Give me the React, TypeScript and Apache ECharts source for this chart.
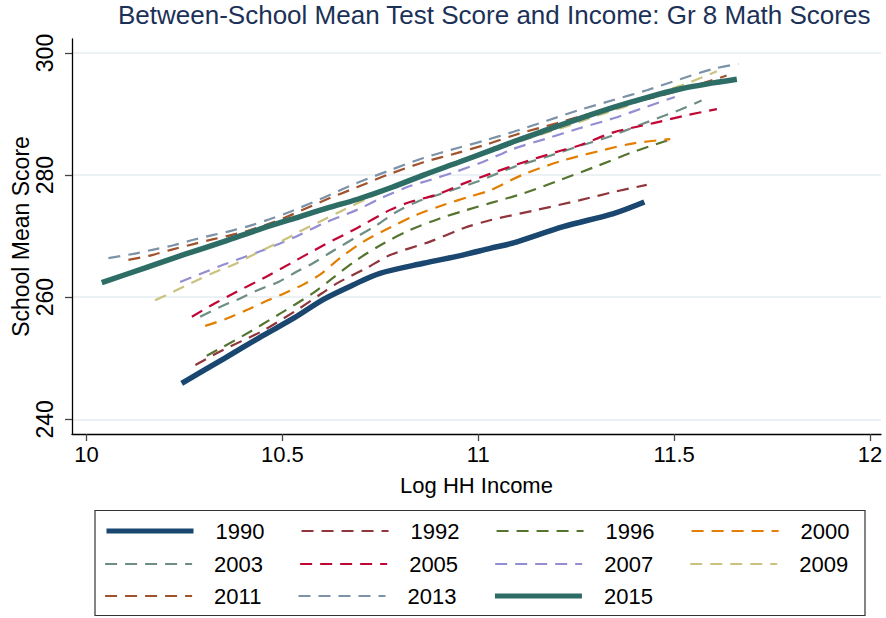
import React, { useEffect, useRef } from "react";
import * as echarts from "echarts";

const seriesNames = ["1990", "1992", "1996", "2000", "2003", "2005", "2007", "2009", "2011", "2013", "2015"];
const xTicks = [10, 10.5, 11, 11.5, 12];
const yTicks = [240, 260, 280, 300];

const s1990: [number, number][] = [
  [10.243, 245.9], [10.35, 249.9], [10.45, 253.7], [10.53, 256.6], [10.605, 259.65], [10.68, 262.0],
  [10.749, 263.9], [10.86, 265.55], [10.96, 266.9], [11.03, 268.0], [11.09, 268.9], [11.217, 271.55],
  [11.345, 273.7], [11.424, 275.6],
];
const s1992: [number, number][] = [
  [10.278, 248.9], [10.35, 251.4], [10.45, 254.5], [10.537, 257.9], [10.6, 260.6], [10.64, 262.3],
  [10.71, 264.6], [10.775, 266.9], [10.877, 269.1], [10.962, 271.3], [11.03, 272.6], [11.15, 274.3],
  [11.26, 275.9], [11.35, 277.3], [11.43, 278.4],
];
const s1996: [number, number][] = [
  [10.307, 250.4], [10.4, 253.7], [10.494, 257.3], [10.579, 260.7], [10.63, 263.2], [10.69, 266.1],
  [10.758, 268.8], [10.826, 271.0], [10.902, 272.9], [10.971, 274.3], [11.03, 275.4], [11.115, 277.0],
  [11.209, 279.2], [11.3, 281.4], [11.396, 283.8], [11.494, 285.9],
];
const s2000: [number, number][] = [
  [10.303, 255.3], [10.358, 256.5], [10.409, 257.9], [10.46, 259.4], [10.507, 260.7], [10.554, 262.1],
  [10.596, 263.7], [10.647, 266.4], [10.707, 269.1], [10.775, 271.4], [10.843, 273.5], [10.911, 275.1],
  [10.979, 276.5], [11.03, 277.5], [11.115, 280.1], [11.217, 282.4], [11.319, 284.1], [11.396, 285.2],
  [11.49, 285.9],
];
const s2003: [number, number][] = [
  [10.29, 256.8], [10.341, 258.4], [10.392, 259.8], [10.443, 261.3], [10.49, 262.5], [10.537, 264.2],
  [10.579, 265.6], [10.63, 267.6], [10.69, 269.9], [10.741, 271.8], [10.792, 274.0], [10.843, 275.6],
  [10.894, 276.7], [10.945, 277.8], [11.0, 279.0], [11.09, 281.3], [11.175, 283.0], [11.26, 284.8],
  [11.33, 286.2], [11.42, 288.4], [11.515, 290.7], [11.57, 292.2],
];
const s2005: [number, number][] = [
  [10.269, 256.8], [10.328, 259.0], [10.375, 260.6], [10.46, 263.4], [10.52, 265.5], [10.605, 268.5],
  [10.69, 271.3], [10.775, 274.3], [10.826, 275.6], [10.894, 276.8], [10.962, 278.6], [11.03, 280.2],
  [11.106, 281.9], [11.2, 283.8], [11.26, 284.9], [11.345, 287.0], [11.447, 288.5], [11.532, 289.8],
  [11.609, 290.8],
];
const s2007: [number, number][] = [
  [10.239, 262.5], [10.298, 264.0], [10.349, 265.3], [10.4, 266.5], [10.447, 267.6], [10.494, 268.8],
  [10.537, 270.0], [10.605, 272.1], [10.69, 274.3], [10.758, 276.4], [10.817, 278.0], [10.877, 279.2],
  [10.945, 280.6], [11.013, 282.2], [11.09, 284.3], [11.175, 286.0], [11.26, 287.7], [11.345, 289.3],
  [11.43, 291.2], [11.502, 292.8],
];
const s2009: [number, number][] = [
  [10.175, 259.5], [10.222, 260.9], [10.273, 262.5], [10.324, 264.0], [10.375, 265.3], [10.418, 266.7],
  [10.469, 268.3], [10.511, 269.6], [10.545, 270.8], [10.596, 272.4], [10.647, 274.0], [10.715, 276.1],
  [10.766, 277.5], [10.85, 279.6], [10.95, 282.0], [11.05, 284.3], [11.132, 286.1], [11.217, 287.8],
  [11.302, 289.7], [11.387, 291.5], [11.472, 293.7], [11.532, 295.0], [11.609, 297.0],
];
const s2011: [number, number][] = [
  [10.107, 266.1], [10.167, 266.9], [10.218, 267.8], [10.273, 268.7], [10.324, 269.5], [10.371, 270.2],
  [10.418, 271.0], [10.469, 272.1], [10.52, 273.4], [10.605, 275.8], [10.69, 278.0], [10.775, 280.2],
  [10.86, 282.1], [10.945, 283.6], [11.02, 285.0], [11.1, 286.7], [11.2, 288.5], [11.3, 290.3],
  [11.4, 292.0], [11.5, 293.6], [11.634, 296.3],
];
const s2013: [number, number][] = [
  [10.056, 266.4], [10.12, 267.1], [10.171, 267.8], [10.222, 268.5], [10.273, 269.4], [10.324, 270.2],
  [10.371, 270.9], [10.422, 271.8], [10.469, 272.8], [10.52, 274.0], [10.605, 276.3], [10.69, 278.7],
  [10.775, 280.8], [10.86, 282.8], [10.945, 284.4], [11.013, 285.6], [11.09, 287.1], [11.175, 288.9],
  [11.26, 290.7], [11.345, 292.3], [11.43, 293.9], [11.515, 295.7], [11.6, 297.4], [11.664, 298.2],
];
const s2015: [number, number][] = [
  [10.039, 262.4], [10.15, 264.8], [10.25, 267.0], [10.35, 269.1], [10.45, 271.3], [10.545, 273.2],
  [10.62, 274.7], [10.69, 276.0], [10.78, 278.0], [10.86, 280.0], [10.95, 282.1], [11.03, 284.0],
  [11.1, 285.7], [11.175, 287.4], [11.26, 289.3], [11.345, 291.1], [11.43, 292.7], [11.515, 294.1],
  [11.6, 295.1], [11.66, 295.7],
];

const seriesData = [s1990, s1992, s1996, s2000, s2003, s2005, s2007, s2009, s2011, s2013, s2015];
const colors = ["#1a476f", "#90353b", "#55752f", "#e37e00", "#6e8e84", "#c10534", "#938dd2", "#cac27e", "#a0522d", "#7b92a8", "#2d6d66"];
const thickNames = ["1990", "2015"];
const legendRows = [
  ["1990", "1992", "1996", "2000"],
  ["2003", "2005", "2007", "2009"],
  ["2011", "2013", "2015"],
];

export default function App() {
  const ref = useRef<HTMLDivElement>(null);
  useEffect(() => {
    if (!ref.current) return;
    const chart = echarts.init(ref.current, null, { renderer: "svg" });
    const font = "'Liberation Sans', Arial, Helvetica, sans-serif";
    const dash = [12, 8];
    const series = seriesNames.map((name, i) => {
      const thick = thickNames.includes(name);
      return {
        type: "line",
        name,
        data: seriesData[i],
        symbol: "none",
        showSymbol: false,
        smooth: 0.3,
        silent: true,
        lineStyle: { color: colors[i], width: thick ? 5.5 : 2.2, type: thick ? "solid" : dash, cap: "butt" },
        itemStyle: { color: colors[i] },
      };
    });
    const legendTops = [520, 553, 585];
    const legends = legendRows.map((names, r) => ({
      data: names.map((n) => ({ name: n, lineStyle: { width: thickNames.includes(n) ? 5 : 2.2 } })),
      left: 104,
      top: legendTops[r],
      orient: "horizontal",
      itemWidth: 87,
      itemHeight: 14,
      itemGap: 36,
      padding: 0,
      selectedMode: false,
      itemStyle: { opacity: 0 },
      textStyle: { fontSize: 22, color: "#000", fontFamily: font, width: 60, padding: [0, 0, 0, 17] },
    }));
    chart.setOption({
      animation: false,
      textStyle: { fontFamily: font },
      title: {
        text: "Between-School Mean Test Score and Income: Gr 8 Math Scores",
        left: 118,
        top: 2,
        padding: 0,
        textStyle: { fontSize: 26, fontWeight: "normal", color: "#1c3157", fontFamily: font },
      },
      grid: { left: 72, right: 5, top: 39, bottom: 184, containLabel: false, outerBoundsMode: "none" },
      xAxis: {
        type: "value",
        min: 9.963,
        max: 12.028,
        name: "Log HH Income",
        nameLocation: "middle",
        nameGap: 40,
        nameMoveOverlap: false,
        nameTextStyle: { fontSize: 22, color: "#000", fontFamily: font },
        axisLine: { show: true, lineStyle: { color: "#000", width: 1.3 } },
        axisTick: { show: true, customValues: xTicks, length: 7, lineStyle: { color: "#444", width: 1.3 } },
        axisLabel: { customValues: xTicks, fontSize: 22, color: "#000", margin: 9, fontFamily: font },
        splitLine: { show: false },
      },
      yAxis: {
        type: "value",
        min: 237.59,
        max: 302.29,
        name: "School Mean Score",
        nameLocation: "middle",
        nameGap: 40,
        nameRotate: 90,
        nameMoveOverlap: false,
        nameTextStyle: { fontSize: 23, color: "#000", fontFamily: font },
        axisLine: { show: true, lineStyle: { color: "#000", width: 1.3 } },
        axisTick: { show: true, customValues: yTicks, length: 7, lineStyle: { color: "#444", width: 1.3 } },
        axisLabel: { customValues: yTicks, rotate: 90, fontSize: 23, color: "#000", margin: 16, fontFamily: font },
        splitLine: { show: true, lineStyle: { color: "#e6eef1", width: 1.6 } },
      },
      legend: legends,
      graphic: [
        {
          type: "rect",
          shape: { x: 95, y: 510.5, width: 770, height: 105 },
          style: { fill: "none", stroke: "#333", lineWidth: 1.2 },
          silent: true,
        },
      ],
      series,
    });
    return () => chart.dispose();
  }, []);
  return <div ref={ref} style={{ position: "absolute", left: 0, top: 0, width: 886, height: 618 }} />;
}
